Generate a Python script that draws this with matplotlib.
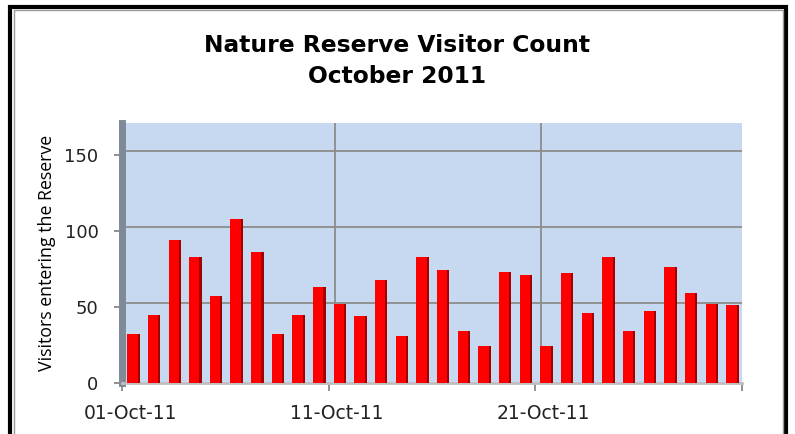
import numpy as np
import matplotlib.pyplot as plt
from matplotlib.patches import Rectangle
from matplotlib.transforms import ScaledTranslation

days = list(range(1, 31))
visitors = [32, 45, 94, 83, 57, 108, 86, 32, 45, 63,
            52, 44, 68, 31, 83, 74, 34, 24, 73, 71,
            24, 72, 46, 83, 34, 47, 76, 59, 52, 51]
tick_days = [1, 11, 21]
tick_labels = ['01-Oct-11', '11-Oct-11', '21-Oct-11']

fig = plt.figure(figsize=(7.95, 4.34), dpi=100)
fig.patch.set_facecolor('white')

# outer chart frame
fig.patches.append(Rectangle((0.013, -0.05), 0.976, 1.035, transform=fig.transFigure,
                             fill=False, ec='black', lw=3))
fig.patches.append(Rectangle((0.0175, -0.05), 0.967, 1.027, transform=fig.transFigure,
                             fill=False, ec='#999999', lw=1))

fig.text(0.5, 0.895, 'Nature Reserve Visitor Count', ha='center', va='center',
         fontsize=16.8, fontweight='bold', family='DejaVu Sans')
fig.text(0.5, 0.823, 'October 2011', ha='center', va='center',
         fontsize=16.8, fontweight='bold', family='DejaVu Sans')

ax = fig.add_axes([0.1535, 0.1175, 0.7795, 0.5995])
ax.set_facecolor('#C6D9F0')

x = np.array(days) - 0.5
ax.bar(x, visitors, width=0.5, color='#FF0000', zorder=3)
ax.bar(x + 0.25, visitors, width=0.1, color='#A00000', align='edge', zorder=3)

ax.set_xlim(0, 30)
ax.set_ylim(0, 171)
ax.set_yticks([0, 50, 100, 150])
ax.set_xticks([d - 1 for d in tick_days] + [30])
ax.set_xticklabels(tick_labels + [''])
ax.tick_params(axis='both', labelsize=13, colors='#7f7f7f', labelcolor='#222222',
               length=6, width=1.2)
ax.tick_params(axis='x', pad=9, labelsize=13.5)
ax.tick_params(axis='y', pad=11)

# shift labels a bit to the right like the excel date axis
off = ScaledTranslation(8 / 100, 0, fig.dpi_scale_trans)
for lab in ax.get_xticklabels():
    lab.set_transform(lab.get_transform() + off)

ax.grid(True, color='#8c8c8c', lw=1.3, zorder=1)
# back wall gridlines sit a little up/right of the front axis
for gl in ax.get_xgridlines():
    gl.set_transform(gl.get_transform() + ScaledTranslation(6 / 100, 0, fig.dpi_scale_trans))
for gl in ax.get_ygridlines():
    gl.set_transform(gl.get_transform() + ScaledTranslation(0, 4 / 100, fig.dpi_scale_trans))
ax.get_ygridlines()[0].set_visible(False)
ax.get_xgridlines()[0].set_visible(False)
ax.get_xgridlines()[-1].set_visible(False)

for s in ['top', 'right']:
    ax.spines[s].set_visible(False)
ax.spines['left'].set_color('#7f8a99')
ax.spines['left'].set_linewidth(5)
ax.spines['bottom'].set_color('#bfbfbf')
ax.spines['bottom'].set_linewidth(2)

ax.set_ylabel('Visitors entering the Reserve', fontsize=12.8, family='Open Sans', labelpad=6)

fig.savefig('out.png', dpi=100)
